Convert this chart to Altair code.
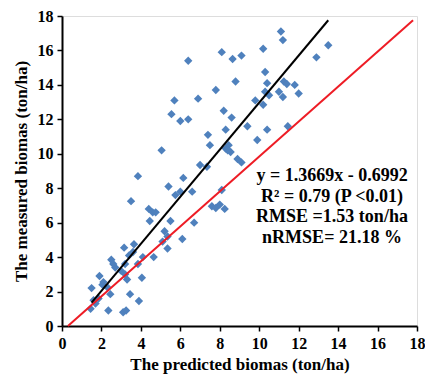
import altair as alt
import pandas as pd

# predicted (x) and measured (y) biomass, ton/ha
pred = [6.4, 8.1, 8.65, 9.1, 10.2, 11.1, 11.2, 13.5, 12.9, 8.8,
        10.3, 10.4, 11.25, 11.4, 11.8, 12.0, 11.0, 11.2, 10.3, 10.5,
        9.8, 10.2, 7.8, 5.7, 6.9, 5.55, 6.0, 6.4, 8.2, 8.6,
        8.3, 7.4, 7.5, 8.3, 8.45, 8.55, 8.9, 9.1, 5.05, 7.0,
        7.35, 9.4, 10.4, 11.45, 9.9, 8.1, 7.6, 8.0, 8.25, 3.85,
        3.5, 5.4, 6.15, 5.75, 6.0, 6.6, 4.4, 4.6, 4.75, 4.45,
        5.5, 6.7, 5.2, 5.35, 6.1, 5.1, 5.35, 4.65, 3.15, 3.65,
        3.6, 2.5, 3.4, 3.85, 3.2, 2.7, 3.0, 1.9, 1.5, 2.05,
        2.3, 3.3, 4.05, 2.45, 3.45, 3.9, 1.85, 1.7, 1.45, 2.35,
        3.1, 3.25, 4.1, 3.2, 2.1, 1.6, 2.6, 8.4, 7.8]
meas = [15.4, 15.9, 15.5, 15.7, 16.1, 17.1, 16.6, 16.3, 15.6, 14.2,
        14.75, 14.1, 14.2, 14.05, 14.0, 13.5, 13.6, 13.3, 13.6, 13.4,
        13.1, 12.85, 13.7, 13.1, 13.2, 12.3, 11.9, 12.0, 12.5, 12.1,
        11.4, 11.1, 10.5, 10.3, 10.5, 10.1, 9.7, 9.5, 10.2, 9.35,
        9.25, 11.6, 11.4, 11.6, 10.8, 7.9, 6.95, 7.05, 6.8, 8.7,
        7.25, 8.1, 8.6, 7.6, 7.8, 7.8, 6.8, 6.6, 6.6, 6.1,
        6.1, 6.0, 5.5, 5.2, 5.05, 4.9, 4.5, 4.0, 4.55, 4.75,
        4.3, 3.85, 4.1, 3.6, 3.6, 3.4, 3.2, 2.9, 2.2, 2.4,
        2.25, 2.7, 2.8, 1.85, 1.85, 1.45, 1.6, 1.3, 1.0, 0.9,
        0.8, 0.9, 4.0, 3.0, 2.55, 1.5, 3.6, 10.2, 6.85]

slope = 1.3669
intercept = -0.6992
fit_x = [1.5, 13.5]
fit_y = [slope * v + intercept for v in fit_x]
ref_x = [0.3, 17.8]
ref_y = [0.0, 17.75]

stats_text = ["y = 1.3669x - 0.6992", "R\u00b2 = 0.79 (P <0.01)",
              "RMSE =1.53 ton/ha", "nRMSE= 21.18 %"]
stats_y = [160, 181, 201, 222]

ticks = list(range(0, 19, 2))
FONT = "Liberation Serif"

pts = pd.DataFrame({"pred": pred, "meas": meas})
fit = pd.DataFrame({"pred": fit_x, "meas": fit_y})
ref = pd.DataFrame({"pred": ref_x, "meas": ref_y})

xs = alt.Scale(domain=[0, 18], nice=False)
ys = alt.Scale(domain=[0, 18], nice=False)

common = dict(grid=False, labelFont=FONT, labelFontWeight="bold", labelFontSize=16,
              labelColor="black", titleFont=FONT, titleFontWeight="bold", titleFontSize=17,
              titleColor="black", domainColor="black", domainWidth=2, tickColor="black",
              tickWidth=1.5, tickSize=5, labelPadding=4, labelOverlap=False,
              labelFlush=False)
xax = alt.Axis(values=ticks, title="The predicted biomas (ton/ha)", titlePadding=5, **common)
yax = alt.Axis(values=ticks, title="The measured biomas (ton/ha)", titlePadding=7, **common)

X = alt.X("pred:Q", scale=xs, axis=xax)
Y = alt.Y("meas:Q", scale=ys, axis=yax)

points = alt.Chart(pts).mark_point(shape="diamond", filled=True, size=70,
                                   color="#4F81BD", opacity=1).encode(x=X, y=Y)
ref_line = alt.Chart(ref).mark_line(color="#EE1C25", strokeWidth=2).encode(x=X, y=Y)
fit_line = alt.Chart(fit).mark_line(color="black", strokeWidth=2).encode(x=X, y=Y)

layers = [points, ref_line, fit_line]
for s, yy in zip(stats_text, stats_y):
    layers.append(
        alt.Chart(pd.DataFrame({"t": [s]})).mark_text(
            font=FONT, fontWeight="bold", fontSize=18, color="black",
            align="center", baseline="middle").encode(
            text="t:N", x=alt.value(270), y=alt.value(yy))
    )

chart = alt.layer(*layers).properties(
    width=355, height=310,
    autosize=alt.AutoSizeParams(type="none"),
    padding={"left": 54, "top": 8, "right": 8, "bottom": 50},
).configure_view(stroke="black", strokeWidth=2).configure(background="white")

chart.save("out.html", embed_options={"renderer": "svg", "actions": False})
